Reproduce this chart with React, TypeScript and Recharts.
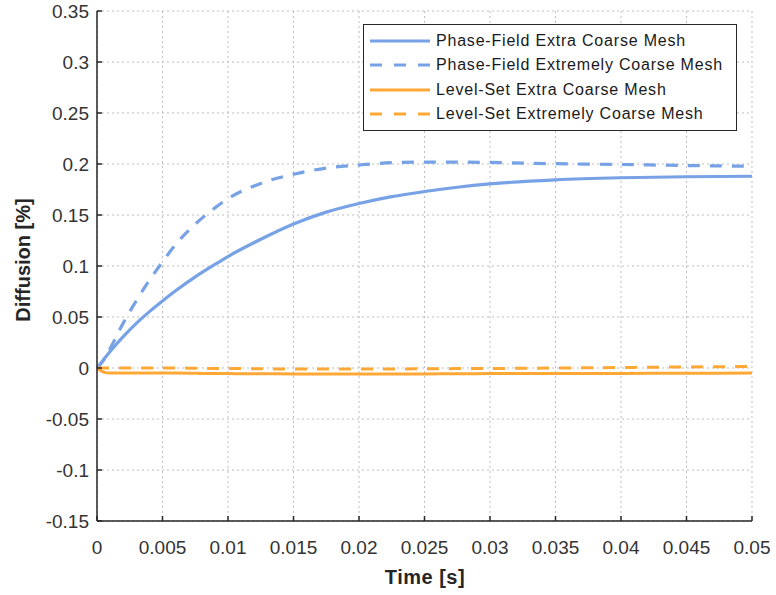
import React from 'react';
import { LineChart, Line, XAxis, YAxis, CartesianGrid, Legend } from 'recharts';

const times = [0, 0.0005, 0.001, 0.002, 0.003, 0.004, 0.005, 0.006, 0.0075, 0.009, 0.01, 0.0125, 0.015, 0.0175, 0.02, 0.0225, 0.025, 0.0275, 0.03, 0.035, 0.04, 0.045, 0.05];
const pfExtra = [0, 0.0082, 0.0162, 0.0308, 0.0438, 0.0553, 0.0658, 0.0757, 0.0893, 0.1015, 0.1093, 0.1262, 0.1412, 0.1528, 0.1613, 0.168, 0.173, 0.1772, 0.1805, 0.1845, 0.1865, 0.1875, 0.188];
const pfExtreme = [0, 0.0075, 0.019, 0.044, 0.066, 0.086, 0.104, 0.121, 0.141, 0.157, 0.166, 0.181, 0.19, 0.196, 0.199, 0.2013, 0.2018, 0.2018, 0.2015, 0.2003, 0.1995, 0.1985, 0.1978];
const lsExtra = [0, -0.004, -0.005, -0.005, -0.005, -0.005, -0.005, -0.005, -0.0052, -0.0055, -0.0055, -0.0057, -0.0058, -0.006, -0.006, -0.006, -0.0058, -0.0056, -0.0055, -0.0055, -0.0053, -0.0052, -0.005];
const lsExtreme = [0, 0, 0, 0, 0, 0, 0, 0, -0.0003, -0.0005, -0.0005, -0.0008, -0.001, -0.001, -0.001, -0.001, -0.0008, -0.0006, -0.0005, 0, 0.0005, 0.001, 0.0015];

const xTicks = [0, 0.005, 0.01, 0.015, 0.02, 0.025, 0.03, 0.035, 0.04, 0.045, 0.05];
const xTickLabels = ['0', '0.005', '0.01', '0.015', '0.02', '0.025', '0.03', '0.035', '0.04', '0.045', '0.05'];
const yTicks = [-0.15, -0.1, -0.05, 0, 0.05, 0.1, 0.15, 0.2, 0.25, 0.3, 0.35];
const yTickLabels = ['-0.15', '-0.1', '-0.05', '0', '0.05', '0.1', '0.15', '0.2', '0.25', '0.3', '0.35'];

const seriesNames = [
  'Phase-Field Extra Coarse Mesh',
  'Phase-Field Extremely Coarse Mesh',
  'Level-Set Extra Coarse Mesh',
  'Level-Set Extremely Coarse Mesh',
];

const BLUE = '#78a2e6';
const ORANGE = '#ffa836';
const FONT = '"Liberation Sans", Arial, Helvetica, sans-serif';

const data = times.map((t, i) => ({
  t,
  pfExtra: pfExtra[i],
  pfExtreme: pfExtreme[i],
  lsExtra: lsExtra[i],
  lsExtreme: lsExtreme[i],
}));

const legendItems = [
  { name: seriesNames[0], color: BLUE, dash: undefined },
  { name: seriesNames[1], color: BLUE, dash: '12 12' },
  { name: seriesNames[2], color: ORANGE, dash: undefined },
  { name: seriesNames[3], color: ORANGE, dash: '12 12' },
];

const LegendBox = () => (
  <div
    style={{
      width: 372,
      height: 101,
      border: '1px solid #262626',
      background: '#fff',
      boxSizing: 'content-box',
      paddingTop: 4,
    }}
  >
    {legendItems.map((it) => (
      <div key={it.name} style={{ display: 'flex', alignItems: 'center', height: 24.3 }}>
        <svg width={72} height={10} style={{ display: 'block' }}>
          <line x1={6} y1={5} x2={66} y2={5} stroke={it.color} strokeWidth={3} strokeDasharray={it.dash} />
        </svg>
        <span style={{ fontFamily: FONT, fontSize: 16, letterSpacing: 0.8, color: '#1a1a1a', whiteSpace: 'nowrap' }}>
          {it.name}
        </span>
      </div>
    ))}
  </div>
);

export default function App() {
  return (
    <div style={{ position: 'absolute', left: 0, top: 0, background: '#fff' }}>
      <LineChart width={776} height={595} data={data} margin={{ top: 11, right: 24, left: 0, bottom: 34 }}>
        <CartesianGrid stroke="#bdbdbd" strokeDasharray="2 3" strokeWidth={1} />
        <XAxis
          dataKey="t"
          type="number"
          domain={[0, 0.05]}
          ticks={xTicks}
          tickFormatter={(v: number) => xTickLabels[xTicks.indexOf(v)] ?? String(v)}
          height={40}
          axisLine={{ stroke: '#262626', strokeWidth: 1.5 }}
          tickLine={{ stroke: '#262626', strokeWidth: 1.5 }}
          tickSize={-5}
          tickMargin={25}
          tick={{ fontFamily: FONT, fontSize: 19, fill: '#333' }}
          label={{
            content: () => (
              <text x={425} y={584} textAnchor="middle" fontFamily={FONT} fontSize={20} fontWeight="bold" fill="#262626" letterSpacing={0.5}>
                Time [s]
              </text>
            ),
          }}
        />
        <YAxis
          type="number"
          domain={[-0.15, 0.35]}
          ticks={yTicks}
          tickFormatter={(v: number) => yTickLabels[yTicks.indexOf(v)] ?? String(v)}
          width={97}
          axisLine={{ stroke: '#262626', strokeWidth: 1.5 }}
          tickLine={{ stroke: '#262626', strokeWidth: 1.5 }}
          tickSize={-5}
          tickMargin={13}
          tick={{ fontFamily: FONT, fontSize: 19, fill: '#333' }}
          allowDataOverflow
          label={{
            content: () => (
              <text
                x={30}
                y={260}
                transform="rotate(-90 30 260)"
                textAnchor="middle"
                fontFamily={FONT}
                fontSize={20}
                fontWeight="bold"
                fill="#262626"
              >
                Diffusion [%]
              </text>
            ),
          }}
        />
        <Legend
          layout="vertical"
          align="center"
          verticalAlign="middle"
          content={() => <LegendBox />}
          wrapperStyle={{ position: 'absolute', left: 363, top: 24, width: 374, height: 106 }}
        />
        <Line name={seriesNames[0]} dataKey="pfExtra" type="monotone" stroke={BLUE} strokeWidth={3.2} dot={false} isAnimationActive={false} />
        <Line name={seriesNames[1]} dataKey="pfExtreme" type="monotone" stroke={BLUE} strokeWidth={3.2} strokeDasharray="12 10" dot={false} isAnimationActive={false} />
        <Line name={seriesNames[2]} dataKey="lsExtra" type="monotone" stroke={ORANGE} strokeWidth={3} dot={false} isAnimationActive={false} />
        <Line name={seriesNames[3]} dataKey="lsExtreme" type="monotone" stroke={ORANGE} strokeWidth={3} strokeDasharray="12 10" dot={false} isAnimationActive={false} />
      </LineChart>
    </div>
  );
}
